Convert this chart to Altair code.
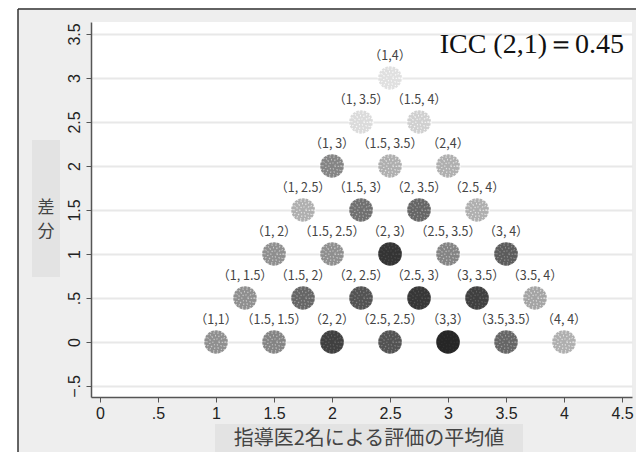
import altair as alt
import pandas as pd

# cluster data: pair label, mean of the two ratings, difference, visual density (0-1)
pair_text = [
    "1,1", "1.5, 1.5", "2, 2", "2.5, 2.5", "3,3", "3.5,3.5", "4, 4",
    "1, 1.5", "1.5, 2", "2, 2.5", "2.5, 3", "3, 3.5", "3.5, 4",
    "1, 2", "1.5, 2.5", "2, 3", "2.5, 3.5", "3, 4",
    "1, 2.5", "1.5, 3", "2, 3.5", "2.5, 4",
    "1, 3", "1.5, 3.5", "2,4",
    "1, 3.5", "1.5, 4",
    "1,4",
]
mean_vals = [
    1, 1.5, 2, 2.5, 3, 3.5, 4,
    1.25, 1.75, 2.25, 2.75, 3.25, 3.75,
    1.5, 2, 2.5, 3, 3.5,
    1.75, 2.25, 2.75, 3.25,
    2, 2.5, 3,
    2.25, 2.75,
    2.5,
]
diff_vals = [
    0, 0, 0, 0, 0, 0, 0,
    0.5, 0.5, 0.5, 0.5, 0.5, 0.5,
    1, 1, 1, 1, 1,
    1.5, 1.5, 1.5, 1.5,
    2, 2, 2,
    2.5, 2.5,
    3,
]
density = [
    0.45, 0.5, 0.85, 0.75, 1.0, 0.65, 0.3,
    0.45, 0.65, 0.75, 0.9, 0.85, 0.35,
    0.45, 0.45, 0.92, 0.5, 0.7,
    0.3, 0.6, 0.65, 0.3,
    0.5, 0.3, 0.3,
    0.1, 0.15,
    0.08,
]
x_ticks = [0, 0.5, 1, 1.5, 2, 2.5, 3, 3.5, 4, 4.5]
y_ticks = [-0.5, 0, 0.5, 1, 1.5, 2, 2.5, 3, 3.5]

df = pd.DataFrame({
    "label": ["（" + t + "）" for t in pair_text],
    "mean": mean_vals,
    "diff": diff_vals,
    "density": density,
})

W, H = 541, 375
one = pd.DataFrame({"k": [0]})

xscale = alt.Scale(domain=[-0.078, 4.586], nice=False, zero=False)
yscale = alt.Scale(domain=[-0.625, 3.636], nice=False, zero=False)

label_expr = "replace(format(datum.value, ''), '0.', '.')"

white_strip = alt.Chart(one).mark_rect(color="white").encode(
    x=alt.value(-90), x2=alt.value(-73), y=alt.value(-20), y2=alt.value(500)
)
border_v = alt.Chart(one).mark_rule(color="#333333", strokeWidth=1.5).encode(
    x=alt.value(-73), y=alt.value(-13), y2=alt.value(500)
)
border_h = alt.Chart(one).mark_rule(color="#333333", strokeWidth=1.5).encode(
    x=alt.value(-73), x2=alt.value(700), y=alt.value(-13)
)
ybox = alt.Chart(one).mark_rect(color="#e3e3e3").encode(
    x=alt.value(-59), x2=alt.value(-31), y=alt.value(118), y2=alt.value(255)
)
xbox = alt.Chart(one).mark_rect(color="#e3e3e3").encode(
    x=alt.value(124), x2=alt.value(432), y=alt.value(402), y2=alt.value(432)
)
ytitle = alt.Chart(one).mark_text(
    text=["差", "分"], font="Noto Sans CJK JP", fontSize=17, color="#444444",
    lineHeight=24, align="center", baseline="middle"
).encode(x=alt.value(-45), y=alt.value(186))
xtitle = alt.Chart(one).mark_text(
    text="指導医2名による評価の平均値", font="Noto Sans CJK JP", fontSize=20,
    color="#444444", align="center", baseline="middle"
).encode(x=alt.value(278), y=alt.value(417))

clusters = alt.Chart(df).mark_circle(size=560, opacity=1).encode(
    x=alt.X("mean:Q", scale=xscale, axis=alt.Axis(
        values=x_ticks, labelExpr=label_expr, grid=False, title="",
        labelPadding=3)),
    y=alt.Y("diff:Q", scale=yscale, axis=alt.Axis(
        values=y_ticks, labelExpr=label_expr, grid=True, title="",
        labelAngle=-90, labelAlign="center", labelBaseline="bottom",
        labelPadding=4, gridColor="#e8e8e8", gridWidth=2)),
    color=alt.Color("density:Q", scale=alt.Scale(domain=[0, 1], range=["#f2f2f2", "#262626"]), legend=None),
)


def speckle(size, width, dash):
    return alt.Chart(df).mark_point(
        size=size, filled=False, strokeWidth=width, strokeDash=dash, color="white"
    ).encode(
        x="mean:Q", y="diff:Q",
        opacity=alt.Opacity("density:Q", scale=alt.Scale(domain=[0, 1], range=[0.95, 0.05]), legend=None),
    )


ring_edge = speckle(540, 2.2, [1.5, 2.5])
ring_outer = speckle(330, 1.6, [1, 3])
ring_mid = speckle(160, 1.6, [1, 2.5])
ring_inner = speckle(40, 1.4, [1, 2])

labels = alt.Chart(df).mark_text(
    font="Noto Sans CJK JP", fontSize=12.5, color="#444444", dy=-22, baseline="middle"
).encode(x="mean:Q", y="diff:Q", text="label:N")

icc = alt.Chart(one).mark_text(
    text="ICC (2,1)＝0.45", font="Liberation Serif", fontSize=28, color="#111111",
    align="right", baseline="alphabetic"
).encode(x=alt.value(533), y=alt.value(31))

chart = alt.layer(
    white_strip, border_v, border_h, ybox, xbox, ytitle, xtitle,
    clusters, ring_edge, ring_outer, ring_mid, ring_inner, labels, icc
).resolve_scale(color="independent", opacity="independent").properties(
    width=W, height=H,
    autosize=alt.AutoSizeParams(type="none"),
    padding={"left": 83, "top": 14, "right": 4, "bottom": 55},
    background="#eeeeee",
).configure_view(fill="white", strokeWidth=0).configure_axis(
    labelFont="Liberation Sans", labelFontSize=16, labelColor="#222222",
    domainColor="#555555", tickColor="#555555", tickSize=5, domainWidth=1.5,
)

chart.save("out.html", embed_options={"renderer": "svg", "actions": False})
